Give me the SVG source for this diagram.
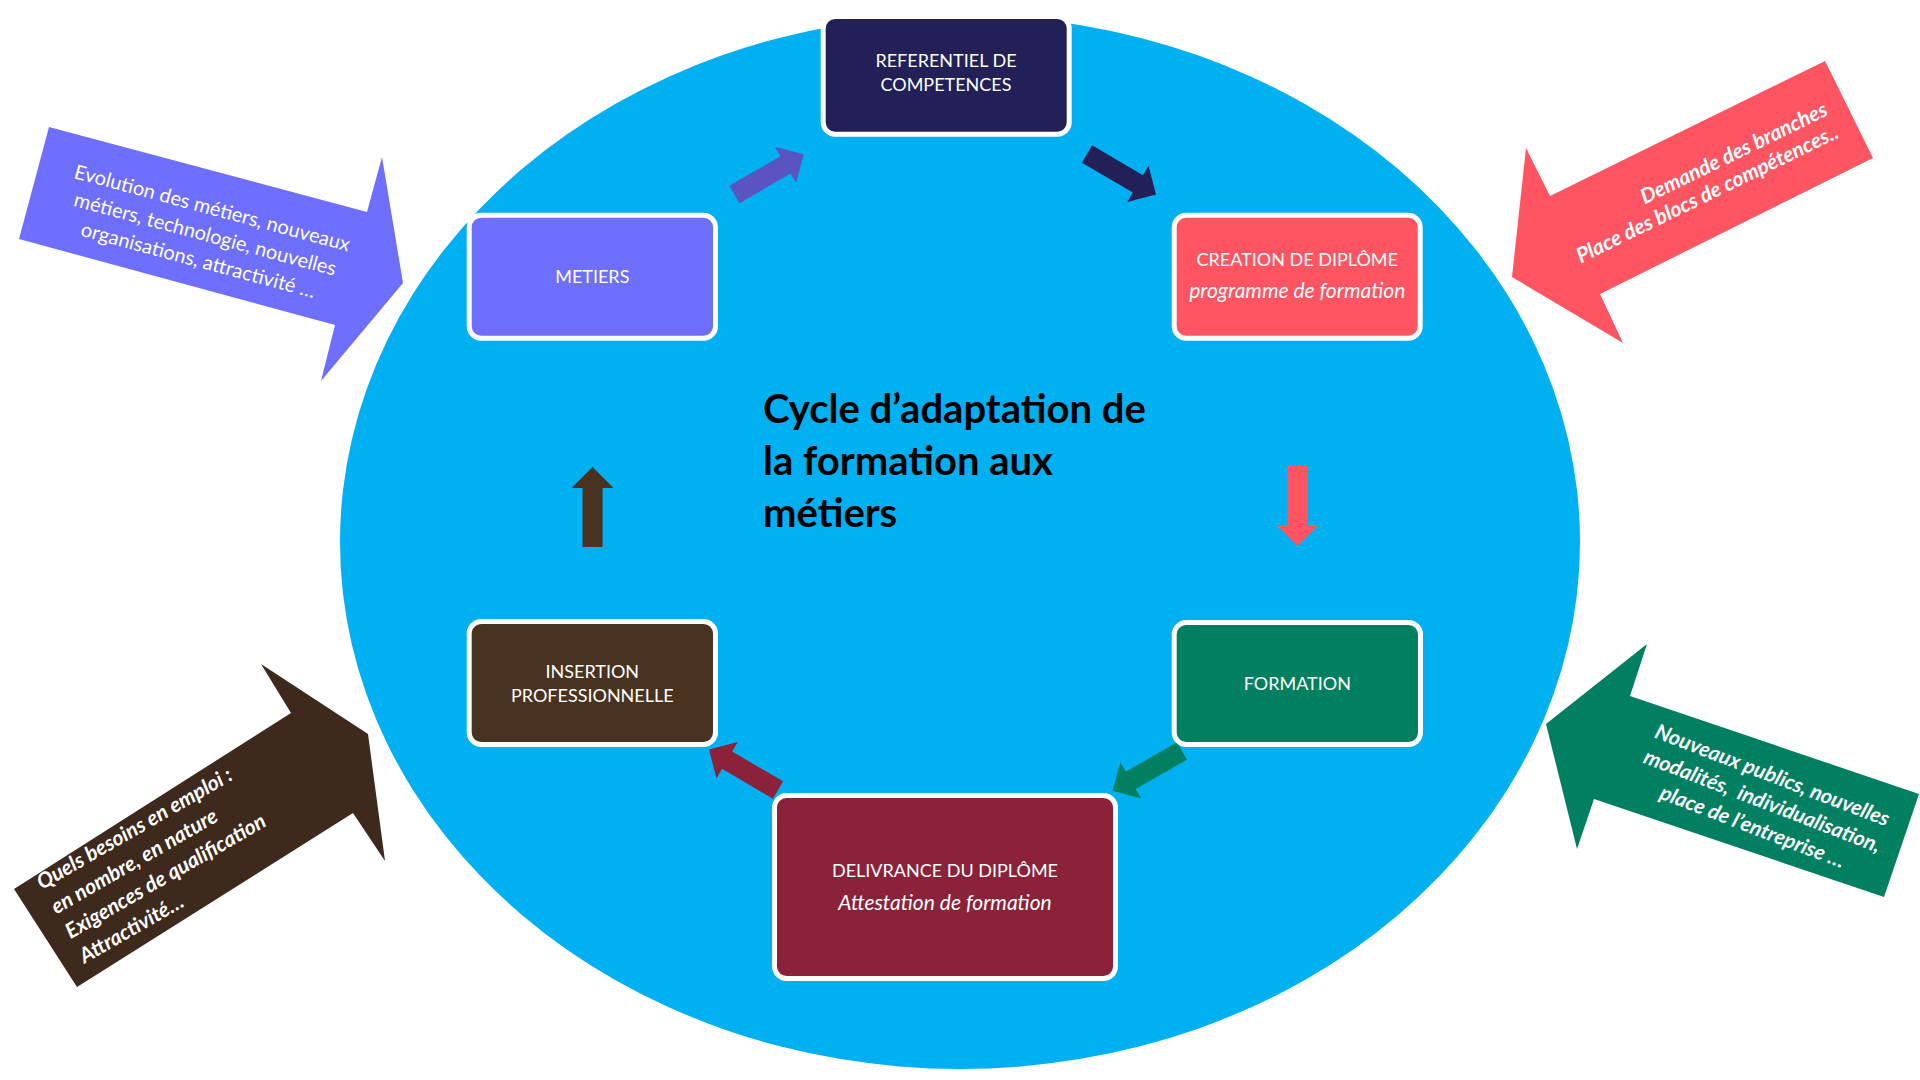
<svg xmlns="http://www.w3.org/2000/svg" width="1920" height="1080" viewBox="0 0 1920 1080">
<defs>
<style>
.box{stroke:#ffffff;stroke-width:5}
.bt{font-family:Lato,"Open Sans","Liberation Sans",sans-serif;font-size:18px;fill:#ffffff;text-anchor:middle}
.it{font-style:italic;font-size:21px}
.title{font-family:Lato,"Open Sans","Liberation Sans",sans-serif;font-size:40px;font-weight:bold;fill:#000000}
.ct{font-family:Lato,"Open Sans","Liberation Sans",sans-serif;font-size:20px;fill:#ffffff}
.cb{font-weight:bold;font-style:italic;font-size:21px}
</style>
<path id="blk" d="M0,-10 H59 V-21 L80,0 L59,21 V10 H0 Z"/>
</defs>
<rect width="1920" height="1080" fill="#ffffff"/>
<ellipse id="cycle" cx="960" cy="542" rx="620" ry="527" fill="#00B0F0"/>

<g id="callout-metiers">
<polygon points="49,127 367,212 382,157 403,283 321,381 335,325 19,239" fill="#6E6EFF"/>
<g transform="translate(205,235) rotate(15)">
<text class="ct" text-anchor="middle" x="0" y="-21">Evolution des métiers, nouveaux</text>
<text class="ct" text-anchor="middle" x="0" y="6">métiers, technologie, nouvelles</text>
<text class="ct" text-anchor="middle" x="0" y="33">organisations, attractivité …</text>
</g>
</g>

<g id="callout-branches">
<polygon points="1825,61 1873,158 1600,294 1623,343 1512,277 1526,148 1550,196" fill="#FF5462"/>
<g transform="translate(1840,137) rotate(-26)">
<text class="ct cb" text-anchor="end" x="0" y="-25">Demande des branches</text>
<text class="ct cb" text-anchor="end" x="0" y="0">Place des blocs de compétences..</text>
</g>
</g>

<g id="callout-emploi">
<polygon points="77,987 14,889 291,713 261,664 368,734 385,861 353,813" fill="#3D2A1C"/>
<g transform="translate(42,890) rotate(-30)">
<text class="ct cb" x="0" y="0">Quels besoins en emploi :</text>
<text class="ct cb" x="0" y="28.4">en nombre, en nature</text>
<text class="ct cb" x="0" y="56.8">Exigences de qualification</text>
<text class="ct cb" x="0" y="85.2">Attractivité…</text>
</g>
</g>

<g id="callout-publics">
<polygon points="1647,644 1546,724 1577,849 1594,799 1884,897 1919,794 1630,696" fill="#008060"/>
<g transform="translate(1762,802) rotate(21)">
<text class="ct cb" text-anchor="middle" x="0" y="-21.5">Nouveaux publics, nouvelles</text>
<text class="ct cb" text-anchor="middle" x="0" y="6" xml:space="preserve">modalités,  individualisation,</text>
<text class="ct cb" text-anchor="middle" x="0" y="33.5">place de l’entreprise …</text>
</g>
</g>

<g id="connectors">
<use href="#blk" transform="translate(734.5,194.5) rotate(-30.2)" fill="#5A54C0"/>
<use href="#blk" transform="translate(1087,154) rotate(30.4)" fill="#222056"/>
<use href="#blk" transform="translate(1297.5,466) rotate(90)" fill="#FF5462"/>
<use href="#blk" transform="translate(1182,751) rotate(150.3)" fill="#008060"/>
<use href="#blk" transform="translate(778,790) rotate(210.4)" fill="#8B2239"/>
<use href="#blk" transform="translate(592.5,547) rotate(-90)" fill="#4A3220"/>
</g>

<g id="node-referentiel">
<rect class="box" x="823.2" y="16.5" width="246" height="117.7" rx="12" fill="#222056"/>
<text class="bt" x="946" y="66.7">REFERENTIEL DE</text>
<text class="bt" x="946" y="90.7">COMPETENCES</text>
</g>
<g id="node-metiers">
<rect class="box" x="469.2" y="215.2" width="246.3" height="123" rx="12" fill="#6E6EFF"/>
<text class="bt" x="592.3" y="283.3">METIERS</text>
</g>
<g id="node-creation">
<rect class="box" x="1174.2" y="215.2" width="246" height="123" rx="12" fill="#FF5462"/>
<text class="bt" x="1297.2" y="266">CREATION DE DIPLÔME</text>
<text class="bt it" x="1297.2" y="298">programme de formation</text>
</g>
<g id="node-insertion">
<rect class="box" x="469.2" y="621.5" width="246.3" height="123" rx="12" fill="#4A3220"/>
<text class="bt" x="592.3" y="678">INSERTION</text>
<text class="bt" x="592.3" y="701.7">PROFESSIONNELLE</text>
</g>
<g id="node-formation">
<rect class="box" x="1174.2" y="622.5" width="246.3" height="122" rx="12" fill="#008060"/>
<text class="bt" x="1297.3" y="690">FORMATION</text>
</g>
<g id="node-delivrance">
<rect class="box" x="774.5" y="795.5" width="341" height="183" rx="12" fill="#8B2239"/>
<text class="bt" x="945" y="876.7">DELIVRANCE DU DIPLÔME</text>
<text class="bt it" x="945" y="910">Attestation de formation</text>
</g>

<g id="title">
<text class="title" x="763" y="423">Cycle d’adaptation de</text>
<text class="title" x="763" y="475">la formation aux</text>
<text class="title" x="763" y="527">métiers</text>
</g>
</svg>
